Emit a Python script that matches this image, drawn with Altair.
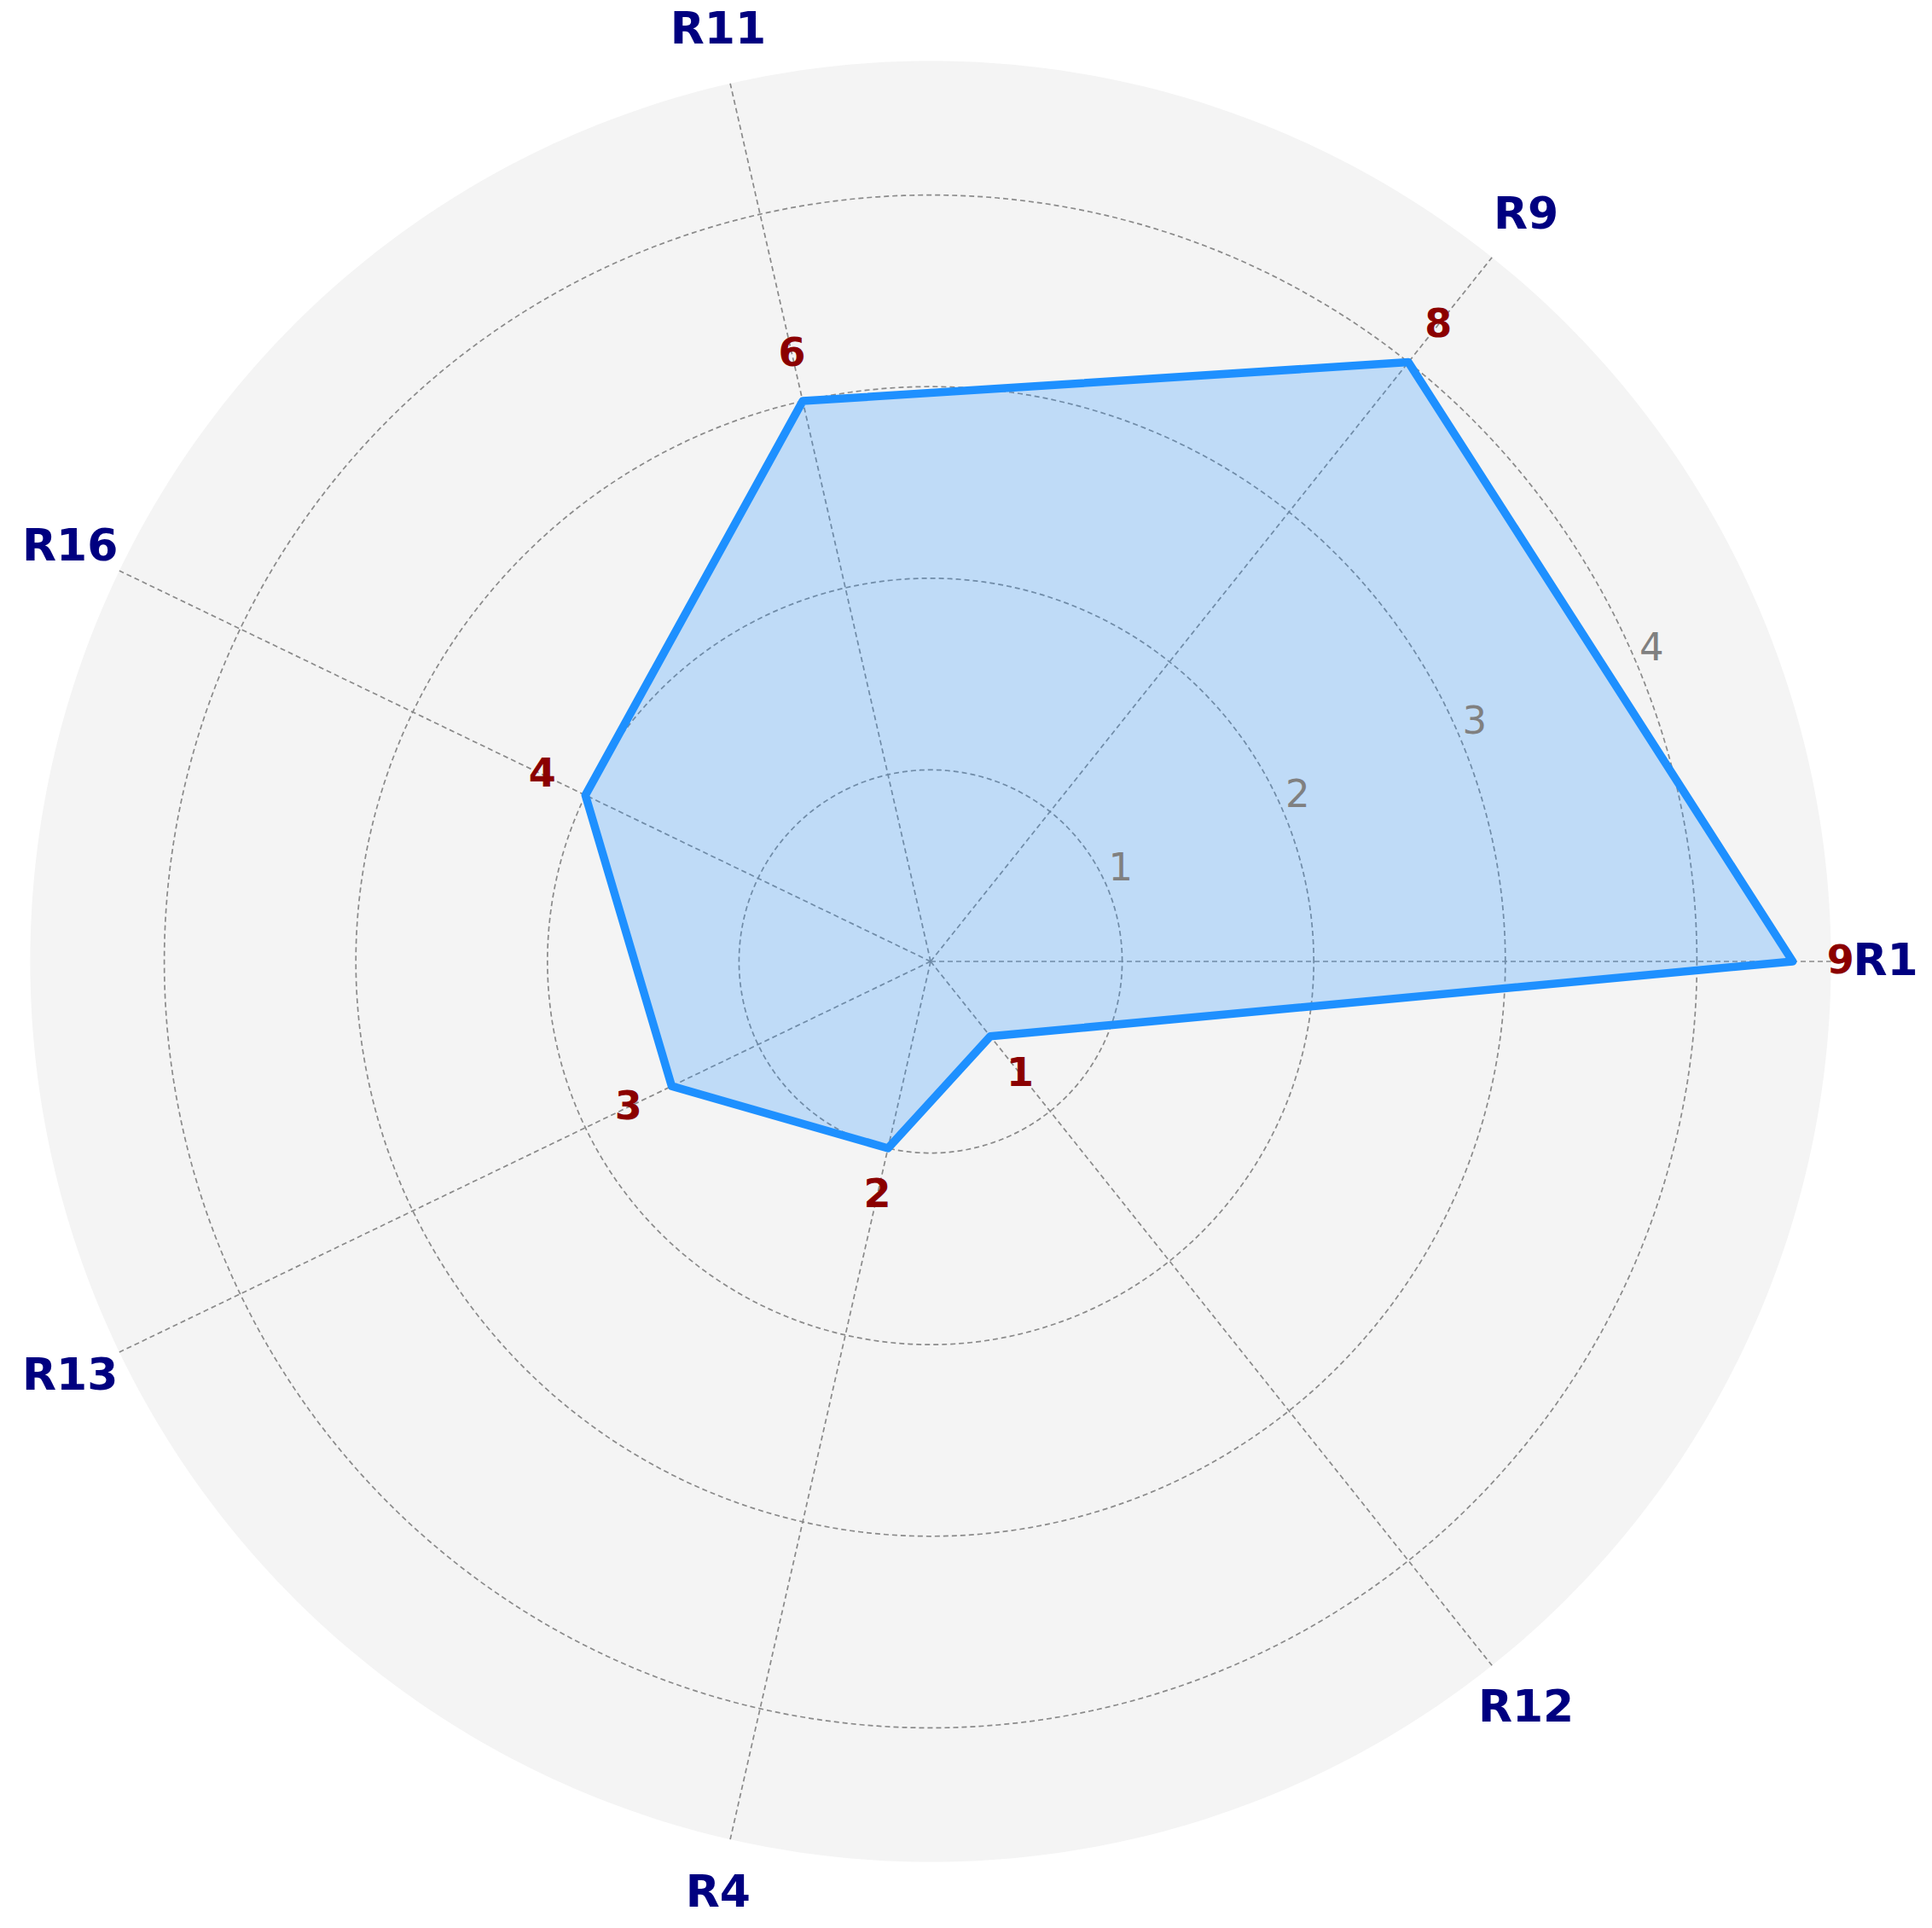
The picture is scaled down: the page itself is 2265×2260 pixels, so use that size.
import numpy as np
import pandas as pd
import altair as alt

# ---- data ----
categories = ["R1", "R9", "R11", "R16", "R13", "R4", "R12"]
values = [9, 8, 6, 4, 3, 2, 1]
ring_values = [2, 4, 6, 8]
ring_labels = ["1", "2", "3", "4"]
r_max = 9.4

# ---- layout geometry ----
n = len(categories)
angles = [2 * np.pi * i / n for i in range(n)]
W, H = 2249, 2244
unit = 112.3
cx, cy = 1083.0, 1119.0
x_dom = [-cx / unit, (W - cx) / unit]
y_dom = [-(H - cy) / unit, cy / unit]
xs = alt.Scale(domain=x_dom, nice=False, zero=False)
ys = alt.Scale(domain=y_dom, nice=False, zero=False)


def X(f, **kw):
    return alt.X(f, type="quantitative", scale=xs, axis=None, **kw)


def Y(f, **kw):
    return alt.Y(f, type="quantitative", scale=ys, axis=None, **kw)


df = pd.DataFrame({"cat": categories, "value": values, "ang": angles, "ord": list(range(n))})
poly_df = pd.concat([df, df.iloc[[0]].assign(ord=n)], ignore_index=True)

# background disc
t = np.linspace(0, np.pi, 241)
bg_df = pd.DataFrame({"x": r_max * np.cos(t), "y": r_max * np.sin(t), "y2": -r_max * np.sin(t)})

# ring circles
tt = np.linspace(0, 2 * np.pi, 361)
ring_rows = []
for rv in ring_values:
    for k, a in enumerate(tt):
        ring_rows.append({"ring": rv, "k": k, "x": rv * np.cos(a), "y": rv * np.sin(a)})
ring_df = pd.DataFrame(ring_rows)

ring_lab_df = pd.DataFrame({"r": ring_values, "label": ring_labels})

grid_color = "#8a8a8a"

bg = alt.Chart(bg_df).mark_area(color="#f4f4f4", opacity=1).encode(
    x=X("x"), y=Y("y"), y2="y2"
)

rings = alt.Chart(ring_df).mark_line(
    color=grid_color, strokeWidth=1.7, strokeDash=[6, 4]
).encode(x=X("x"), y=Y("y"), detail="ring:N", order="k:Q")

spokes = alt.Chart(df).transform_calculate(
    x0="0", y0="0",
    x1=f"{r_max}*cos(datum.ang)", y1=f"{r_max}*sin(datum.ang)"
).mark_rule(color=grid_color, strokeWidth=1.7, strokeDash=[6, 4]).encode(
    x=X("x0"), y=Y("y0"), x2="x1:Q", y2="y1:Q"
)

polygon = alt.Chart(poly_df).transform_calculate(
    x="datum.value*cos(datum.ang)", y="datum.value*sin(datum.ang)"
).mark_line(
    stroke="#1E90FF", strokeWidth=9.5, fill="#1E90FF", fillOpacity=0.25,
    strokeJoin="round", strokeCap="round"
).encode(x=X("x"), y=Y("y"), order="ord:Q")

ring_text = alt.Chart(ring_lab_df).transform_calculate(
    x=f"datum.r*cos({np.pi/8})", y=f"datum.r*sin({np.pi/8})"
).mark_text(
    font="DejaVu Sans", fontSize=45, color="#808080", align="left",
    baseline="bottom", dx=1, dy=0
).encode(x=X("x"), y=Y("y"), text="label:N")

value_text = alt.Chart(df).transform_calculate(
    x="(datum.value+0.5)*cos(datum.ang)", y="(datum.value+0.5)*sin(datum.ang)"
).mark_text(
    font="DejaVu Sans", fontSize=46, fontWeight="bold", color="#8B0000",
    align="center", baseline="middle"
).encode(x=X("x"), y=Y("y"), text="value:Q")

cat_text = alt.Chart(df).transform_calculate(
    x="9.97*cos(datum.ang)", y="9.97*sin(datum.ang)"
).mark_text(
    font="DejaVu Sans", fontSize=52, fontWeight="bold", color="#000080",
    align="center", baseline="middle"
).encode(x=X("x"), y=Y("y"), text="cat:N")

chart = alt.layer(bg, rings, spokes, polygon, ring_text, value_text, cat_text).properties(
    width=W, height=H, padding=0, autosize=alt.AutoSizeParams(type="none"),
    background="white"
).configure_view(stroke=None)

chart.save("out.html", embed_options={"renderer": "svg", "actions": False})
